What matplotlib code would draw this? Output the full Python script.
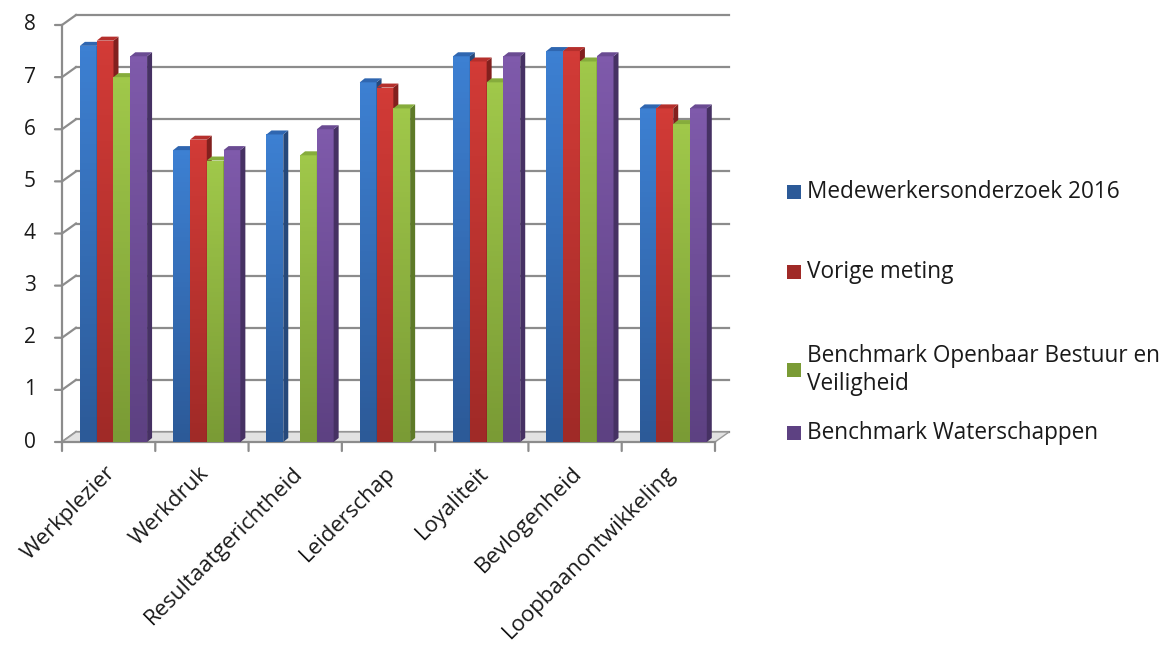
import numpy as np
import matplotlib
matplotlib.use("Agg")
import matplotlib.pyplot as plt
from matplotlib.patches import Polygon, Rectangle
from matplotlib.colors import LinearSegmentedColormap
import matplotlib.transforms as mtransforms

plt.rcParams['font.family'] = ['Open Sans', 'DejaVu Sans']

categories = ['Werkplezier', 'Werkdruk', 'Resultaatgerichtheid', 'Leiderschap',
              'Loyaliteit', 'Bevlogenheid', 'Loopbaanontwikkeling']
series = ['Medewerkersonderzoek 2016', 'Vorige meting',
          'Benchmark Openbaar Bestuur en\nVeiligheid', 'Benchmark Waterschappen']
medewerkers_2016 = [7.6, 5.6, 5.9, 6.9, 7.4, 7.5, 6.4]
vorige_meting = [7.7, 5.8, np.nan, 6.8, 7.3, 7.5, 6.4]
benchmark_obv = [7.0, 5.4, 5.5, 6.4, 6.9, 7.3, 6.1]
benchmark_ws = [7.4, 5.6, 6.0, np.nan, 7.4, 7.4, 6.4]
values = [medewerkers_2016, vorige_meting, benchmark_obv, benchmark_ws]

# (top, bottom, side, top face)
colours = [('#3d80d2', '#2c5a98', '#26487a', '#2f66b0'),
           ('#d23b37', '#a02a27', '#82201e', '#b52f2c'),
           ('#a0c84a', '#7a9b35', '#5e7a28', '#86ac3c'),
           ('#7f5aab', '#5d4182', '#463163', '#6a4b92')]

W, H = 1168, 649
fig = plt.figure(figsize=(W / 100, H / 100), dpi=100)
ax = fig.add_axes([62 / W, 1 - 442 / H, (715 - 62) / W, (442 - 25) / H])
ax.set_xlim(-0.5, 6.5)
ax.set_ylim(0, 8)
for s in ax.spines.values():
    s.set_visible(False)
ax.set_xticks([])
ax.set_yticks([])

back = mtransforms.offset_copy(ax.transData, fig=fig, x=14, y=10, units='dots')
gray = '#8c8c8c'


def figpt(tr, x, y):
    p = tr.transform((x, y))
    return p[0] / W, p[1] / H


# back wall grid lines and side-wall diagonals
for v in range(0, 9):
    ax.plot([-0.5, 6.5], [v, v], color=gray, lw=1.6, transform=back, clip_on=False, zorder=1)
    a = figpt(ax.transData, -0.5, v)
    b = figpt(back, -0.5, v)
    ax.add_line(plt.Line2D([a[0], b[0]], [a[1], b[1]], color=gray, lw=1.6,
                           transform=fig.transFigure, clip_on=False, zorder=1))

# floor
floor = Polygon([figpt(ax.transData, -0.5, 0), figpt(ax.transData, 6.5, 0),
                 figpt(back, 6.5, 0), figpt(back, -0.5, 0)],
                closed=True, transform=fig.transFigure, facecolor='#e2e2e2',
                edgecolor='#9a9a9a', lw=1.0, zorder=2, clip_on=False)
ax.add_patch(floor)

# front axis lines with ticks
ax.plot([-0.5, -0.5], [0, 8], color=gray, lw=1.6, clip_on=False, zorder=2)
ax.plot([-0.5, 6.5], [0, 0], color=gray, lw=1.6, clip_on=False, zorder=2)
for v in range(0, 9):
    ax.annotate('', xy=(-0.5, v), xytext=(-7, 0), textcoords='offset pixels',
                arrowprops=dict(arrowstyle='-', color=gray, lw=1.6, shrinkA=0, shrinkB=0))
    ax.annotate(str(v), xy=(-0.5, v), xytext=(-26, 0), textcoords='offset pixels',
                ha='right', va='center', fontsize=15, color='#1a1a1a')
for i in range(len(categories) + 1):
    ax.annotate('', xy=(i - 0.5, 0), xytext=(0, -9), textcoords='offset pixels',
                arrowprops=dict(arrowstyle='-', color=gray, lw=1.6, shrinkA=0, shrinkB=0))
for i, c in enumerate(categories):
    ax.annotate(c, xy=(i, 0), xytext=(4, -28), textcoords='offset pixels',
                ha='right', va='center', rotation=45, rotation_mode='anchor',
                fontsize=16, color='#1a1a1a')

# bars with a small 3D look
bw = 0.18
start = -0.308
px = 1 / 93.3
dx, dy = 5 * px, 4 * 8 / 417
for i in range(len(categories)):
    for j in range(4):
        h = values[j][i]
        if np.isnan(h):
            continue
        x0 = i + start + j * bw
        top, bot, side, tf = colours[j]
        z = 3 + i + j * 0.01
        cmap = LinearSegmentedColormap.from_list('g', [bot, top])
        rect = Rectangle((x0, 0), bw, h, facecolor='none', edgecolor='none')
        ax.add_patch(rect)
        im = ax.imshow(np.linspace(0, 1, 64).reshape(-1, 1), cmap=cmap, origin='lower',
                       extent=[x0, x0 + bw, 0, h], aspect='auto', zorder=z)
        im.set_clip_path(rect)
        ax.add_patch(Polygon([(x0 + bw, 0), (x0 + bw + dx, dy), (x0 + bw + dx, h + dy), (x0 + bw, h)],
                             closed=True, facecolor=side, edgecolor='none', zorder=z))
        ax.add_patch(Polygon([(x0, h), (x0 + bw, h), (x0 + bw + dx, h + dy), (x0 + dx, h + dy)],
                             closed=True, facecolor=tf, edgecolor='none', zorder=z))

ax.set_xlim(-0.5, 6.5)
ax.set_ylim(0, 8)

# legend
leg_y = [192, 272, 370, 433]
for j, lab in enumerate(series):
    y = 1 - leg_y[j] / H
    fig.add_artist(Rectangle((787 / W, y - 7 / H), 14 / W, 14 / H,
                             transform=fig.transFigure, facecolor=colours[j][1], edgecolor='none'))
    fig.text(807 / W, y, lab, ha='left', va='center', fontsize=16.3,
             color='#1a1a1a', linespacing=1.2)

fig.savefig('out.png', dpi=100)
